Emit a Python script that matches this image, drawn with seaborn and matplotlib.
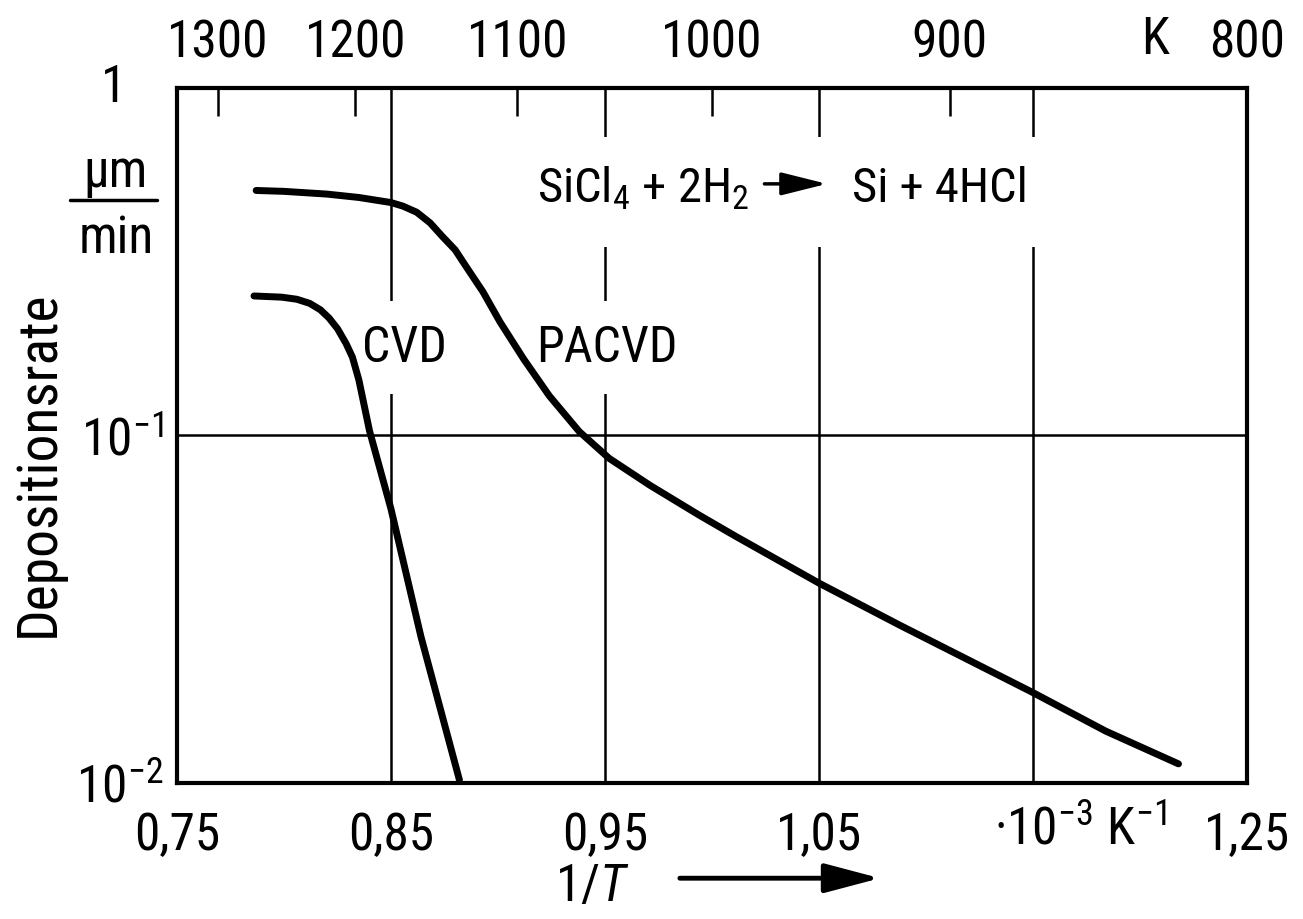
import matplotlib
matplotlib.use("Agg")
import matplotlib.pyplot as plt
from matplotlib import font_manager
from matplotlib.patches import Rectangle
from matplotlib.ticker import NullLocator
import pandas as pd
import seaborn as sns

# 1/T in 10^-3 K^-1 and deposition rate in um/min
PACVD_X = [0.787, 0.800, 0.820, 0.835, 0.850, 0.8556, 0.862, 0.8683, 0.874, 0.880,
           0.885, 0.893, 0.901, 0.912, 0.924, 0.938, 0.952, 0.971, 0.994, 1.011,
           1.050, 1.088, 1.150, 1.184, 1.218]
PACVD_RATE = [0.507, 0.504, 0.495, 0.484, 0.468, 0.457, 0.439, 0.409, 0.374, 0.342,
              0.307, 0.259, 0.212, 0.166, 0.130, 0.1026, 0.0859, 0.0719, 0.0590,
              0.0513, 0.0376, 0.0284, 0.0182, 0.0141, 0.01135]

CVD_X = [0.786, 0.799, 0.806, 0.812, 0.817, 0.821, 0.825, 0.829, 0.832, 0.835,
         0.840, 0.850, 0.864, 0.882]
CVD_RATE = [0.252, 0.250, 0.2466, 0.240, 0.230, 0.218, 0.203, 0.184, 0.168, 0.1445,
            0.103, 0.0615, 0.0264, 0.0102]

X_TICKS = [0.75, 0.85, 0.95, 1.05, 1.15, 1.25]
X_TICK_LABELS = ["0,75", "0,85", "0,95", "1,05", "", "1,25"]
Y_TICKS = [0.01, 0.1, 1]
Y_TICK_LABELS = ["$10^{-2}$", "$10^{-1}$", ""]
TEMPS_K = [1300, 1200, 1100, 1000, 900, 800]


def pick_font():
    # the original uses a narrow DIN-like face, take the narrowest one installed
    entries = font_manager.fontManager.ttflist
    names = {f.name for f in entries}
    for name in ["Liberation Sans Narrow", "Roboto Condensed"]:
        if name in names:
            return name, "normal", 37
    for name in ["Roboto", "DejaVu Sans", "Noto Sans"]:
        if any(f.name == name and f.stretch == "condensed" for f in entries):
            return name, "condensed", 34
    return "Liberation Sans", "normal", 31


FONT, STRETCH, FS = pick_font()

sns.set_theme(style="white")
plt.rcParams["font.family"] = [FONT, "DejaVu Sans"]
plt.rcParams["font.stretch"] = STRETCH
plt.rcParams["text.color"] = "black"
plt.rcParams["mathtext.fontset"] = "custom"
plt.rcParams["mathtext.rm"] = f"{FONT}:stretch={STRETCH}"
plt.rcParams["mathtext.it"] = f"{FONT}:italic:stretch={STRETCH}"
plt.rcParams["mathtext.bf"] = f"{FONT}:bold:stretch={STRETCH}"

df = pd.concat([
    pd.DataFrame({"x": PACVD_X, "rate": PACVD_RATE, "process": "PACVD"}),
    pd.DataFrame({"x": CVD_X, "rate": CVD_RATE, "process": "CVD"}),
])

fig = plt.figure(figsize=(13.03, 9.19), dpi=100)
ax = fig.add_axes([0.1358, 0.148, 0.8212, 0.7563])

sns.lineplot(
    data=df,
    x="x",
    y="rate",
    units="process",
    estimator=None,
    sort=False,
    color="black",
    linewidth=5,
    solid_capstyle="round",
    legend=False,
    zorder=3,
    ax=ax
)

ax.set_yscale("log")
ax.set_xlim(0.75, 1.25)
ax.set_ylim(0.01, 1)
ax.set_xticks(X_TICKS)
ax.set_xticklabels(X_TICK_LABELS)
ax.set_yticks(Y_TICKS)
ax.set_yticklabels(Y_TICK_LABELS)
ax.yaxis.set_minor_locator(NullLocator())
ax.tick_params(axis="both", length=0, labelsize=FS, colors="black")
ax.tick_params(axis="x", pad=20)
ax.tick_params(axis="y", pad=10)

ax.grid(True, color="black", linewidth=1.8)
ax.set_axisbelow(True)
for spine in ax.spines.values():
    spine.set_visible(True)
    spine.set_color("black")
    spine.set_linewidth(3)

ax.set_ylabel("Depositionsrate", fontsize=40, color="black")
ax.yaxis.set_label_coords(-0.105, 0.46)
ax.set_xlabel("$1/T$", fontsize=FS, color="black")
ax.xaxis.set_label_coords(0.388, -0.113)

# temperature scale on top
ax_top = ax.twiny()
ax_top.set_xlim(0.75, 1.25)
ax_top.set_xticks([1000 / t for t in TEMPS_K])
ax_top.set_xticklabels([str(t) for t in TEMPS_K])
ax_top.tick_params(axis="x", direction="in", length=20, width=1.8, pad=14,
                   labelsize=FS, colors="black")
for spine in ax_top.spines.values():
    spine.set_visible(False)
ax_top.text(1.207, 1.069, "K", transform=ax_top.get_xaxis_transform(),
            ha="center", va="center", fontsize=FS)

# unit labels
ax.text(-0.059, 1.0, "1", transform=ax.transAxes, ha="center", va="center",
        fontsize=FS)
ax.text(-0.057, 0.857, "\u00b5m", transform=ax.transAxes, ha="center",
        va="baseline", fontsize=FS)
ax.text(-0.057, 0.7626, "min", transform=ax.transAxes, ha="center",
        va="baseline", fontsize=FS)
ax.plot([-0.1, -0.019], [0.8388, 0.8388], transform=ax.transAxes,
        color="black", linewidth=2.5, clip_on=False)
ax.text(1.172, -0.0690, "\u00b710$^{-3}$ K$^{-1}$",
        transform=ax.get_xaxis_transform(), ha="center", va="center",
        fontsize=FS)
ax.annotate(
    "",
    xy=(0.657, -0.137),
    xytext=(0.47, -0.137),
    xycoords="axes fraction",
    textcoords="axes fraction",
    arrowprops=dict(arrowstyle="-|>,head_length=1.7,head_width=0.45",
                    mutation_scale=20, lw=3.5, color="black",
                    shrinkA=0, shrinkB=0)
)

# curve labels, the grid is broken behind them
box = dict(boxstyle="square,pad=0.45", facecolor="white", edgecolor="none")
ax.text(0.8565, 0.179, "CVD", ha="center", va="center", fontsize=36,
        bbox=box, zorder=2)
ax.text(0.951, 0.179, "PACVD", ha="center", va="center", fontsize=36,
        bbox=box, zorder=2)

# reaction
ax.add_patch(Rectangle((0.33, 0.771), 0.481, 0.158, transform=ax.transAxes,
                       facecolor="white", edgecolor="none", zorder=1))
ax.text(0.3364, 0.836, "SiCl$_4$ + 2H$_2$", transform=ax.transAxes,
        ha="left", va="baseline", fontsize=35, zorder=2)
ax.text(0.631, 0.836, "Si + 4HCl", transform=ax.transAxes,
        ha="left", va="baseline", fontsize=35, zorder=2)
ax.annotate(
    "",
    xy=(0.6075, 0.862),
    xytext=(0.549, 0.862),
    xycoords="axes fraction",
    textcoords="axes fraction",
    arrowprops=dict(arrowstyle="-|>,head_length=1.4,head_width=0.35",
                    mutation_scale=20, lw=2.5, color="black",
                    shrinkA=0, shrinkB=0)
)

fig.savefig("out.png", dpi=100)
plt.close(fig)
